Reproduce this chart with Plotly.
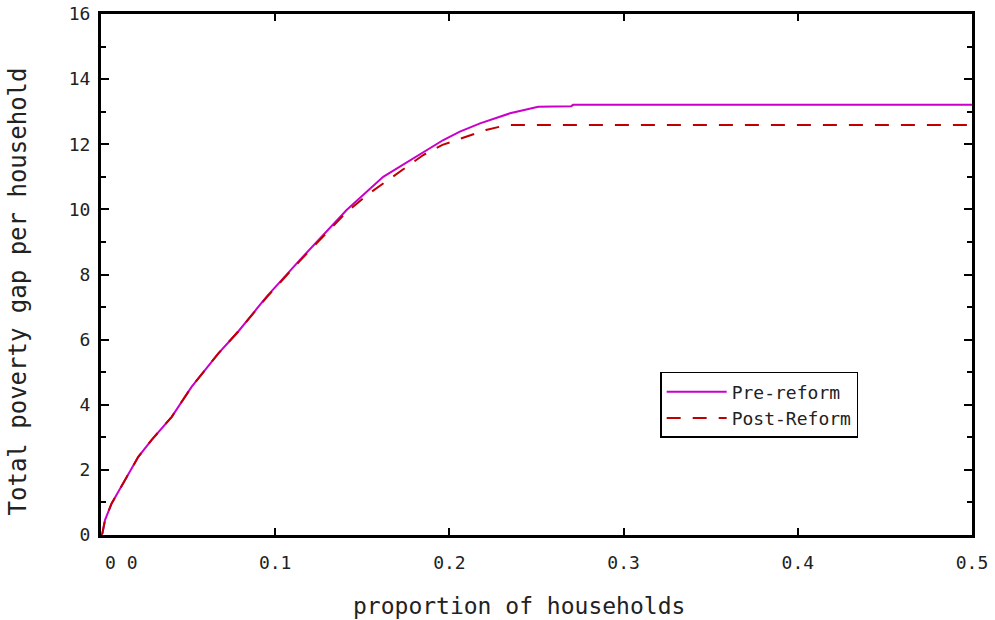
import plotly.graph_objects as go

# Pre-reform curve
pre_x = [0.0, 0.0008, 0.0023, 0.0061, 0.0138, 0.0214, 0.0291, 0.0406, 0.052, 0.0674,
         0.0788, 0.0951, 0.1142, 0.141, 0.162, 0.1716, 0.181, 0.1965, 0.206, 0.2176,
         0.2348, 0.251, 0.27, 0.271, 0.5]
pre_y = [0.0, 0.05, 0.46, 0.97, 1.69, 2.40, 2.92, 3.63, 4.55, 5.58,
         6.25, 7.32, 8.45, 9.98, 11.0, 11.31, 11.62, 12.13, 12.39, 12.64,
         12.95, 13.15, 13.17, 13.21, 13.21]

# Post-reform curve
post_x = [0.0, 0.0008, 0.0023, 0.0061, 0.0138, 0.0214, 0.0291, 0.0406, 0.052, 0.0674,
          0.0788, 0.0951, 0.1142, 0.141, 0.154, 0.166, 0.1755, 0.185, 0.196, 0.21,
          0.221, 0.233, 0.5]
post_y = [0.0, 0.05, 0.46, 0.97, 1.69, 2.40, 2.92, 3.63, 4.55, 5.58,
          6.25, 7.30, 8.42, 9.92, 10.49, 10.95, 11.31, 11.67, 11.98, 12.23,
          12.44, 12.59, 12.59]

x_ticks = [0.1, 0.2, 0.3, 0.4, 0.5]
x_tick_labels = ["0.1", "0.2", "0.3", "0.4", "0.5"]
x_zero_label = "0 0"
y_ticks = [0, 2, 4, 6, 8, 10, 12, 14, 16]
y_tick_labels = ["0", "2", "4", "6", "8", "10", "12", "14", "16"]

FONT = "DejaVu Sans Mono"

fig = go.Figure()
fig.add_trace(go.Scatter(x=pre_x, y=pre_y, mode="lines", name="Pre-reform",
                         line=dict(color="#C800C8", width=2)))
fig.add_trace(go.Scatter(x=post_x, y=post_y, mode="lines", name="Post-Reform",
                         line=dict(color="#C00000", width=2, dash="14px,12px")))

fig.update_layout(
    width=995, height=620,
    margin=dict(l=101, r=23, t=14, b=85),
    paper_bgcolor="white", plot_bgcolor="white",
    font=dict(family=FONT, size=18, color="#222"),
    showlegend=True,
    legend=dict(x=0.642, y=0.313, xanchor="left", yanchor="top",
                bordercolor="black", borderwidth=1.5, bgcolor="white",
                font=dict(family=FONT, size=18, color="#222"),
                itemwidth=60, tracegroupgap=0),
    xaxis=dict(range=[0, 0.5], tickvals=x_ticks, ticktext=x_tick_labels,
               automargin=False, ticklabelstandoff=9,
               ticks="inside", ticklen=7, tickwidth=2, tickcolor="black",
               showline=True, linewidth=3, linecolor="black", mirror="ticks",
               showgrid=False, zeroline=False,
               tickfont=dict(family=FONT, size=18, color="#222")),
    yaxis=dict(range=[0, 16], tickvals=y_ticks, ticktext=y_tick_labels,
               automargin=False, ticklabelstandoff=4,
               ticks="inside", ticklen=8, tickwidth=2, tickcolor="black",
               showline=True, linewidth=3, linecolor="black", mirror="ticks",
               showgrid=False, zeroline=False,
               minor=dict(dtick=1, ticks="inside", ticklen=5, tickwidth=2, tickcolor="black"),
               tickfont=dict(family=FONT, size=18, color="#222")),
    annotations=[
        dict(text=x_zero_label, x=0.012, y=-0.052, xref="x", yref="paper",
             showarrow=False, xanchor="center", yanchor="middle",
             font=dict(family=FONT, size=18, color="#222")),
        dict(text="proportion of households", x=0.48, y=-0.136, xref="paper", yref="paper",
             showarrow=False, xanchor="center", yanchor="middle",
             font=dict(family=FONT, size=23, color="#222")),
        dict(text="Total poverty gap per household", x=-0.095, y=0.468, xref="paper",
             yref="paper", showarrow=False, textangle=-90, xanchor="center",
             yanchor="middle", font=dict(family=FONT, size=24, color="#222")),
    ],
)

fig.write_html("out.html")
